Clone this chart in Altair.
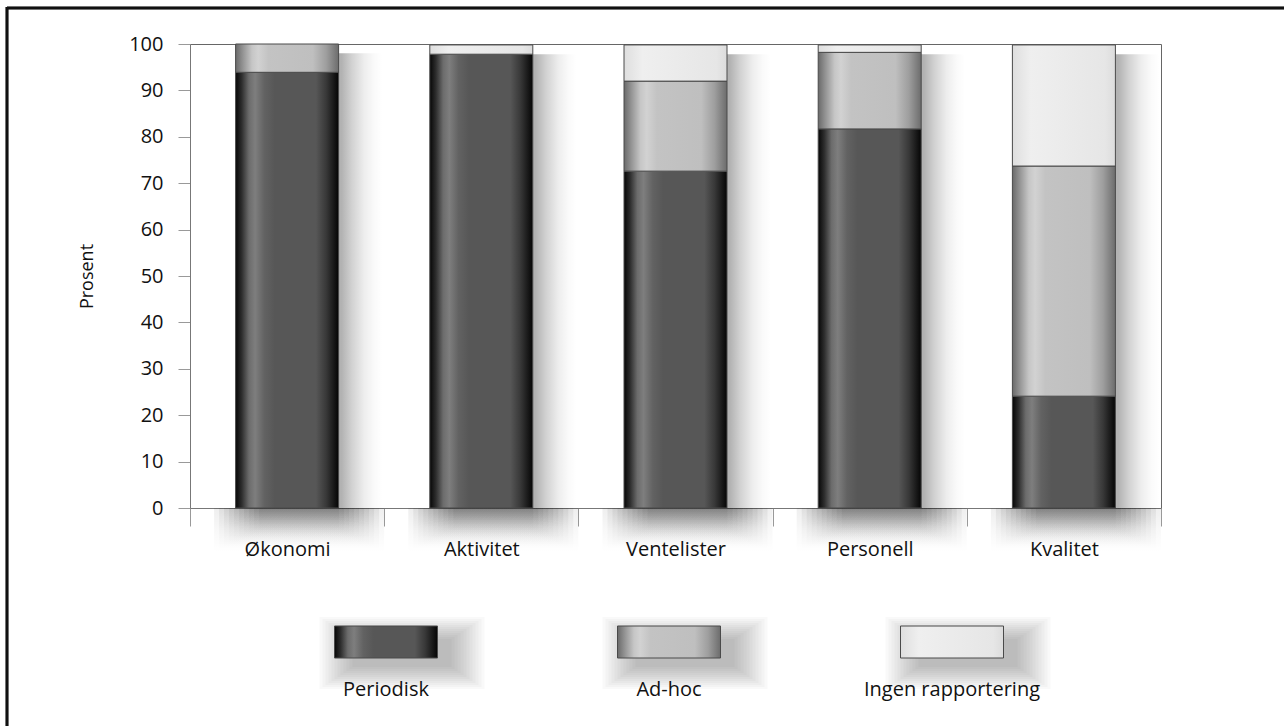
import altair as alt
import pandas as pd

# Andel (prosent) per rapporteringsområde og rapporteringsform
categories = ["Økonomi", "Aktivitet", "Ventelister", "Personell", "Kvalitet"]
series = ["Periodisk", "Ad-hoc", "Ingen rapportering"]
periodisk = [93.9, 97.8, 72.6, 81.7, 24.1]
adhoc = [6.1, 0.0, 19.4, 16.5, 49.6]
ingen = [0.0, 2.0, 7.8, 1.6, 26.1]
y_ticks = [0, 10, 20, 30, 40, 50, 60, 70, 80, 90, 100]

FONT = "Open Sans"
W, H = 971, 464
BAR_W = 103

rows = []
for i, cat in enumerate(categories):
    for k, (name, vals) in enumerate(zip(series, [periodisk, adhoc, ingen])):
        rows.append({"kategori": cat, "serie": name, "rekkefolge": k, "andel": vals[i]})
df = pd.DataFrame(rows)
legend_df = pd.DataFrame({"serie": series})


def grad(stops, vertical=False):
    return alt.LinearGradient(
        gradient="linear", x1=0, y1=0, x2=0 if vertical else 1, y2=1 if vertical else 0,
        stops=[alt.GradientStop(offset=o, color=c) for o, c in stops],
    )


# cylinder-like shading for each series
fills = {
    "Periodisk": grad([(0, "#060606"), (0.06, "#2e2e2e"), (0.13, "#6c6c6c"), (0.19, "#7e7e7e"),
                       (0.28, "#626262"), (0.38, "#575757"), (0.78, "#575757"), (0.88, "#383838"),
                       (0.95, "#1a1a1a"), (1, "#050505")]),
    "Ad-hoc": grad([(0, "#6a6a6a"), (0.08, "#999999"), (0.16, "#c6c6c6"), (0.22, "#d2d2d2"),
                    (0.32, "#c3c3c3"), (0.75, "#bfbfbf"), (0.88, "#9e9e9e"), (1, "#6c6c6c")]),
    "Ingen rapportering": grad([(0, "#dedede"), (0.18, "#efefef"), (0.5, "#ebebeb"),
                                (0.9, "#e6e6e6"), (1, "#dcdcdc")]),
}

side_shadow = grad([(0, "rgba(0,0,0,0.32)"), (0.6, "rgba(0,0,0,0.30)"), (0.7, "rgba(0,0,0,0.18)"),
                    (0.82, "rgba(0,0,0,0.07)"), (0.92, "rgba(0,0,0,0.02)"), (1, "rgba(0,0,0,0)")])
floor_fade = grad([(0, "rgba(0,0,0,0.065)"), (0.5, "rgba(0,0,0,0.028)"), (1, "rgba(0,0,0,0)")],
                  vertical=True)

x_scale = alt.Scale(domain=categories, paddingInner=0, paddingOuter=0)
y_scale = alt.Scale(domain=[0, 100], nice=False, zero=False)

x_axis = alt.Axis(title=None, tickBand="extent", tickSize=18, labelPadding=13, labelAngle=0,
                  domainColor="#777777", tickColor="#999999")
y_axis = alt.Axis(title="Prosent", values=y_ticks, tickSize=12, labelPadding=15, grid=False,
                  domainColor="#777777", tickColor="#999999", titleAngle=-90, titleX=-103,
                  titleY=H / 2, titleAlign="center", titleBaseline="middle")

X = alt.X("kategori:N", scale=x_scale, axis=x_axis, sort=categories)

stacked = alt.Chart(df).transform_stack(
    stack="andel", groupby=["kategori"], as_=["y0", "y1"],
    sort=[alt.SortField("rekkefolge", order="ascending")],
)

totals = alt.Chart(df).transform_aggregate(total="sum(andel)", groupby=["kategori"]) \
    .transform_calculate(topp="datum.total - 2")

bar_layers = []
# soft shadow on the floor below each bar, built from nested translucent strips
for j in range(10):
    bar_layers.append(
        totals.mark_bar(width=80 + 10 * j, xOffset=12, fill=floor_fade).encode(
            x=X, y=alt.datum(0, scale=y_scale, axis=y_axis), y2=alt.datum(-5 - 0.5 * j)
        )
    )
# shadow falling to the right of each bar
bar_layers.append(
    totals.mark_bar(width=BAR_W, xOffset=44, fill=side_shadow).encode(
        x=X, y=alt.Y("topp:Q", scale=y_scale, axis=y_axis), y2=alt.datum(0)
    )
)
for name in series:
    bar_layers.append(
        stacked.transform_filter(alt.datum.serie == name)
        .transform_filter(alt.datum.andel > 0)
        .mark_bar(width=BAR_W, fill=fills[name], stroke="#4a4a4a", strokeWidth=1)
        .encode(x=X, y=alt.Y("y1:Q", scale=y_scale, axis=y_axis), y2="y0:Q")
    )
bars = alt.layer(*bar_layers)

# legend drawn as shaded swatches under the plot
LX = alt.X("serie:N", scale=alt.Scale(type="point", domain=series, range=[196, 762], padding=0),
           axis=None)
key = alt.Chart(legend_df)
KEY_TOP, KEY_BOT = 582, 614
legend_layers = []
for j in range(12, 0, -1):
    cy = (KEY_TOP + KEY_BOT) / 2 + 11
    h = 24 + 4 * j
    legend_layers.append(
        key.mark_bar(width=BAR_W - 10 + 6 * j, xOffset=16, color="black", opacity=0.022).encode(
            x=LX, y=alt.value(cy - h / 2), y2=alt.value(cy + h / 2)
        )
    )
for name in series:
    legend_layers.append(
        key.transform_filter(alt.datum.serie == name)
        .mark_bar(width=BAR_W, fill=fills[name], stroke="#4a4a4a", strokeWidth=1)
        .encode(x=LX, y=alt.value(KEY_TOP), y2=alt.value(KEY_BOT))
    )
legend_layers.append(
    key.mark_text(font=FONT, fontSize=20, color="#111111", baseline="middle")
    .encode(x=LX, y=alt.value(646), text="serie:N")
)
legend = alt.layer(*legend_layers)

# thin page frame along the top and left edges
frame_top = alt.Chart(legend_df).mark_rule(color="#111111", strokeWidth=2.5).encode(
    x=alt.value(-183), x2=alt.value(1094), y=alt.value(-36)
)
frame_left = alt.Chart(legend_df).mark_rule(color="#111111", strokeWidth=2.5).encode(
    x=alt.value(-183), y=alt.value(-37), y2=alt.value(682)
)

chart = alt.layer(bars, legend, frame_top, frame_left).resolve_scale(x="independent").properties(
    width=W, height=H,
    autosize=alt.AutoSizeParams(type="none"),
    padding={"left": 190, "top": 44, "right": 123, "bottom": 218},
    background="white",
).configure_axis(
    labelFont=FONT, labelFontSize=20, labelColor="#111111",
    titleFont=FONT, titleFontSize=18, titleColor="#111111", titleFontWeight="normal",
).configure_view(stroke="#666666", strokeWidth=1)

chart.save("out.html", embed_options={"renderer": "svg", "actions": False})
